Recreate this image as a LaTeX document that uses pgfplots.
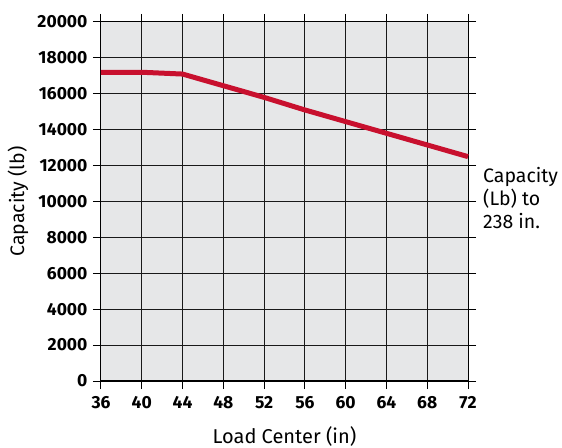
\documentclass[border=0pt]{standalone}
\usepackage{fontspec}
\setmainfont{Fira Sans}
\usepackage{pgfplots}
\pgfplotsset{compat=1.18}
\definecolor{capred}{HTML}{C8102E}
\definecolor{plotbg}{HTML}{E6E7E8}
\begin{document}
\begin{tikzpicture}
\begin{axis}[
    scale only axis,
    width=367pt, height=359pt,
    xmin=36, xmax=72, ymin=0, ymax=20000,
    xtick={36,40,...,72},
    ytick={0,2000,...,20000},
    /pgf/number format/assume math mode=true,
    /pgf/number format/1000 sep={},
    scaled y ticks=false,
    ticklabel style={font=\fontsize{17.5}{19}\selectfont\bfseries},
    yticklabel style={xshift=-2pt},
    xticklabel style={yshift=-4pt},
    tick align=outside,
    major tick length=8pt,
    tick style={black, line width=1pt},
    axis line style={black, line width=1pt},
    grid=major,
    grid style={black!90, line width=1pt},
    axis background/.style={fill=plotbg},
    clip=false,
  ]
  \addplot[capred, line width=5pt] coordinates {
    (36,17200) (40,17200) (44,17100) (48,16450) (52,15800)
    (56,15100) (60,14450) (64,13800) (68,13150) (72,12500)
  };
  \draw[black, line width=2.5pt] (rel axis cs:0,0) -- (rel axis cs:1,0);
  \node[anchor=base, font=\fontsize{20}{22}\selectfont]
    at ([yshift=-62pt]rel axis cs:0.5,0) {Load Center (in)};
  \node[rotate=90, anchor=center, font=\fontsize{19.5}{22}\selectfont]
    at ([xshift=-83pt]rel axis cs:0,0.5) {Capacity (lb)};
  \node[anchor=west, align=left, inner sep=0pt, font=\fontsize{19.5}{23}\selectfont]
    at ([xshift=15pt]rel axis cs:1,0.51) {Capacity\\(Lb) to\\238 in.};
\end{axis}
\pgfresetboundingbox
\path (-101pt,-66pt) rectangle (461pt,381pt);
\end{tikzpicture}
\end{document}
